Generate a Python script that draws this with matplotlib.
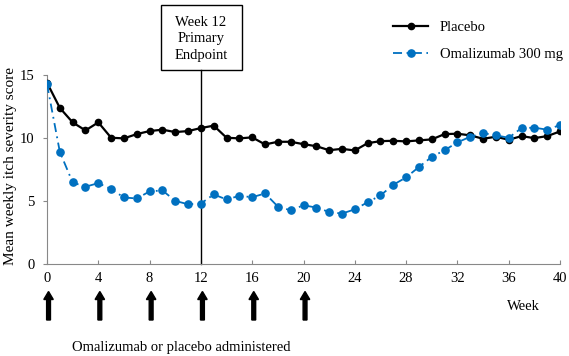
import numpy as np
import matplotlib
matplotlib.use('Agg')
import matplotlib.pyplot as plt
import matplotlib.patches as patches
import matplotlib.transforms as transforms

plt.rcParams['font.family'] = ['Liberation Serif', 'DejaVu Serif']

weeks = np.arange(0, 41)
placebo = [14.39, 12.39, 11.24, 10.60, 11.24, 10.02, 9.97, 10.31, 10.55, 10.66,
           10.47, 10.55, 10.79, 10.98, 10.02, 9.97, 10.05, 9.49, 9.70, 9.70,
           9.51, 9.35, 9.03, 9.14, 9.01, 9.59, 9.75, 9.78, 9.73, 9.81,
           9.89, 10.31, 10.34, 10.21, 9.94, 10.10, 9.86, 10.15, 9.99, 10.15,
           10.52]
omalizumab = [14.28, 8.90, 6.47, 6.13, 6.42, 5.94, 5.28, 5.20, 5.76, 5.84,
              5.01, 4.74, 4.80, 5.52, 5.12, 5.41, 5.30, 5.60, 4.56, 4.26,
              4.66, 4.48, 4.13, 4.00, 4.34, 4.90, 5.44, 6.29, 6.87, 7.70,
              8.50, 9.03, 9.65, 10.10, 10.39, 10.21, 10.02, 10.79, 10.82, 10.66,
              11.03]
dose_weeks = [0, 4, 8, 12, 16, 20]
xticks = list(range(0, 41, 4))
yticks = [0, 5, 10, 15]

W, H = 569, 356
fig = plt.figure(figsize=(W / 100, H / 100), dpi=100)
ax = fig.add_axes([47 / W, 1 - 264 / H, 513 / W, 189 / H])

blue = '#0070C0'
ax.plot(weeks, placebo, color='black', lw=1.6, marker='o', ms=4.5,
        label='Placebo', zorder=3)
ax.plot(weeks, omalizumab, color=blue, lw=1.3, marker='o', ms=5.2,
        linestyle=(0, (5, 2.5, 1, 2.5)), label='Omalizumab 300 mg', zorder=3)

ax.set_xlim(0, 40)
ax.set_ylim(0, 15)
ax.set_xticks(xticks)
ax.set_yticks(yticks)
for s in ['top', 'right']:
    ax.spines[s].set_visible(False)
for s in ['left', 'bottom']:
    ax.spines[s].set_color('#888888')
ax.tick_params(axis='x', direction='in', length=3, color='#888888',
               labelsize=10.5, pad=6)
ax.tick_params(axis='y', direction='out', length=3, color='#888888',
               labelsize=10.5, pad=6)

# week 12 marker line and box
ax.axvline(12, ymin=0, ymax=(264 - 70) / 189, color='black', lw=1,
           clip_on=False, zorder=2)
fig.patches.append(patches.Rectangle((161 / W, 1 - 70 / H), 81 / W, 65 / H,
                                     transform=fig.transFigure, fill=False,
                                     edgecolor='black', lw=1))
fig.text(201 / W, 1 - 38.5 / H, 'Week 12\nPrimary\nEndpoint', ha='center',
         va='center', fontsize=10.5, linespacing=1.35)

fig.text(11 / W, 1 - 166 / H, 'Mean weekly itch severity score', rotation=90,
         ha='center', va='center', fontsize=11)
fig.text(523 / W, 1 - 307 / H, 'Week', ha='center', va='center', fontsize=10.5)
fig.text(181 / W, 1 - 347 / H, 'Omalizumab or placebo administered',
         ha='center', va='center', fontsize=10.5)

# dosing arrows
trans = transforms.blended_transform_factory(ax.transData, fig.transFigure)
for w in dose_weeks:
    ax.add_patch(patches.FancyArrow(w + 0.12, 1 - 320 / H, 0, 28.5 / H,
                                    width=0.3, head_width=0.74,
                                    head_length=8 / H,
                                    length_includes_head=True,
                                    color='black', transform=trans,
                                    clip_on=False))

ax.legend(loc='upper left', bbox_to_anchor=(393 / W, 1 - 21 / H),
          bbox_transform=fig.transFigure, frameon=False, fontsize=10.5,
          handlelength=2.4, handletextpad=0.8, labelspacing=0.95,
          borderpad=0, borderaxespad=0)

fig.savefig('out.png', dpi=100)
